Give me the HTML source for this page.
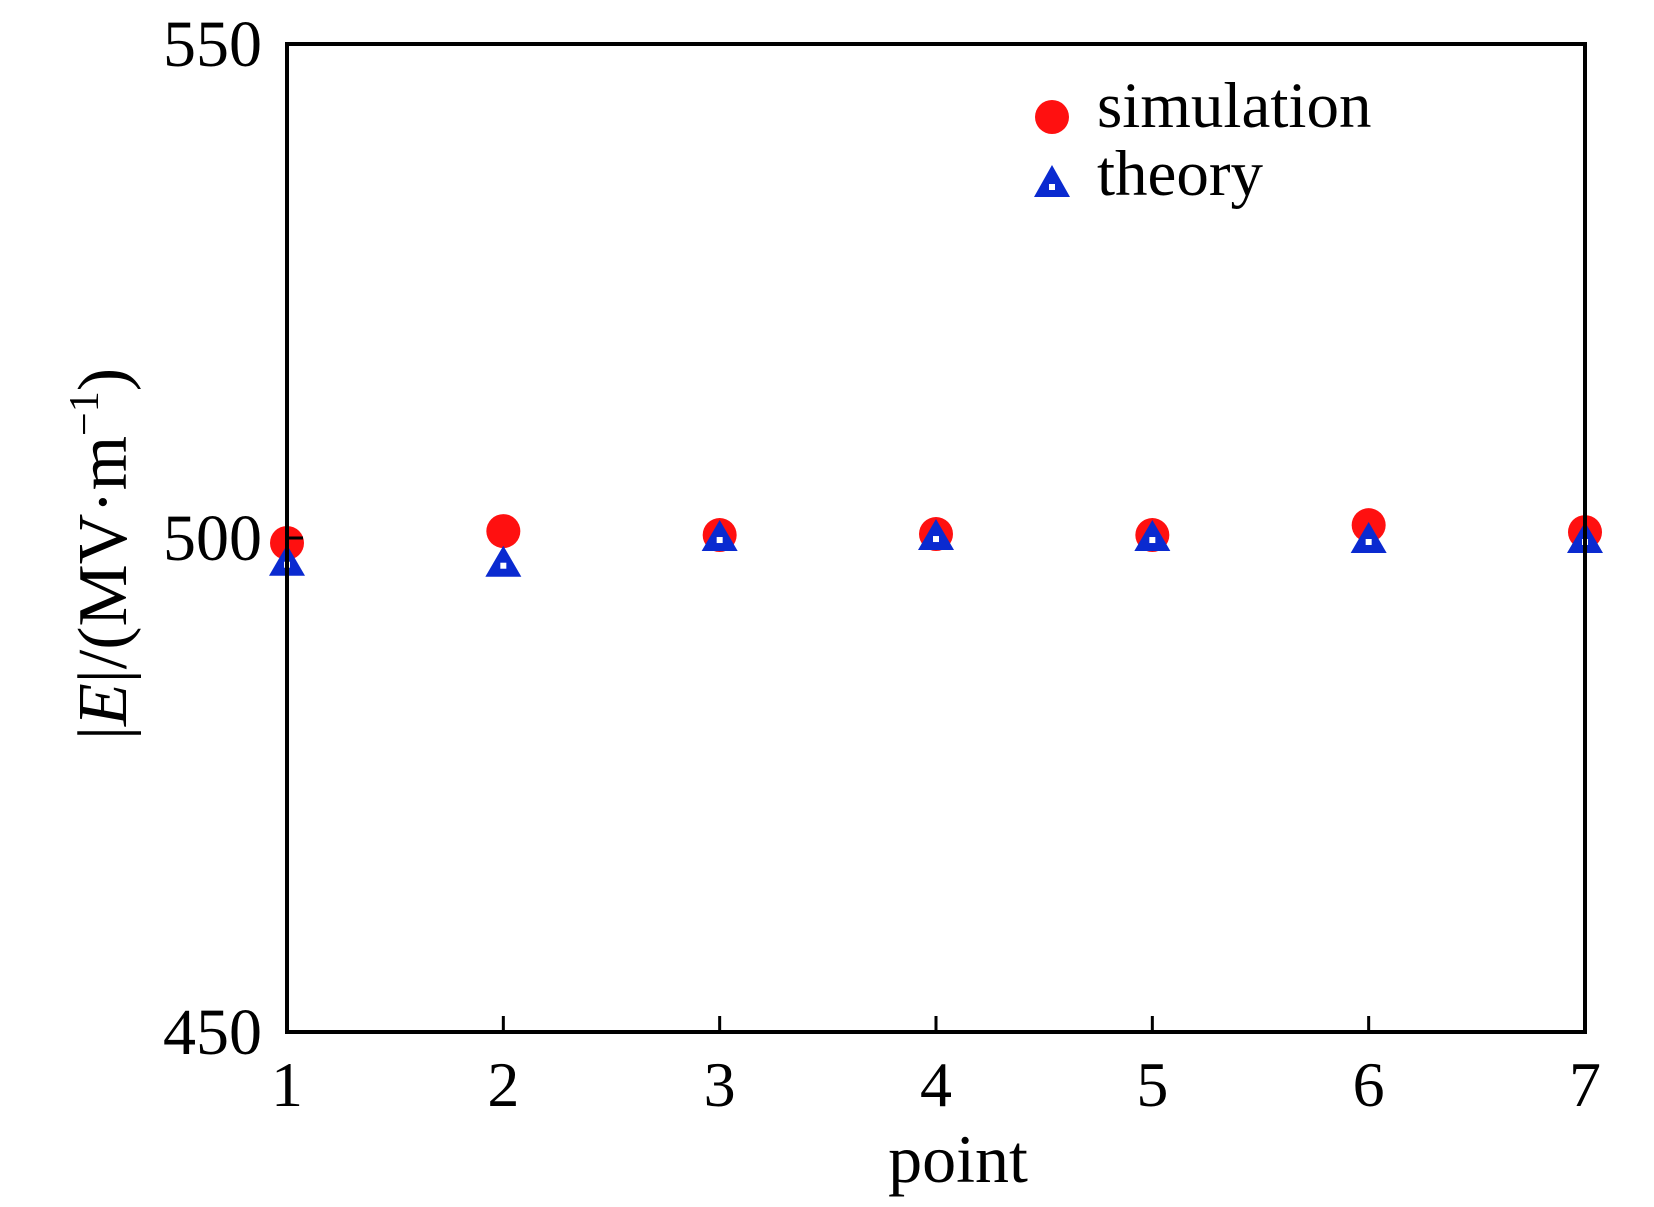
<!DOCTYPE html>
<html><head><meta charset="utf-8"><style>
html,body{margin:0;padding:0;background:#fff;}
svg{display:block;font-family:"Liberation Serif",serif;}
</style></head><body>
<svg id="chart" width="1654" height="1207" viewBox="0 0 1654 1207" xmlns="http://www.w3.org/2000/svg">
<rect x="0" y="0" width="1654" height="1207" fill="#fff"/>
<g id="marks"></g>
<rect x="287" y="44" width="1298" height="988" fill="none" stroke="#000" stroke-width="4"/>
<g id="ticks"></g>
<text x="958" y="1182" font-size="68" text-anchor="middle">point</text>
<text transform="translate(126,554) rotate(-90)" font-size="70" text-anchor="middle">|<tspan font-style="italic">E</tspan>|/(MV·m<tspan font-size="42" dy="-28">−1</tspan><tspan dy="28">)</tspan></text>
<g>
<circle cx="1052" cy="117" r="17" fill="#ff1010"/>
<text x="1097" y="127" font-size="65">simulation</text>
<polygon points="1052,165 1034,197 1070,197" fill="#0a2ad0"/>
<rect x="1049" y="184" width="6" height="6" fill="#fff"/>
<text x="1097" y="195" font-size="65">theory</text>
</g>
</svg>
<script>
const categories = [1,2,3,4,5,6,7];
const simulation = [499.5,500.7,500.3,500.4,500.3,501.3,500.6];
const theory = [497.7,497.6,500.2,500.3,500.2,500.0,500.0];
const yTicks = [450,500,550];

const X0=287,X1=1585,Y0=1032,Y1=44;
function xs(v){return X0+(v-1)/(7-1)*(X1-X0);}
function ys(v){return Y0-(v-450)/(550-450)*(Y0-Y1);}
const NS="http://www.w3.org/2000/svg";
const marks=document.getElementById('marks');
const ticks=document.getElementById('ticks');
function mk(tag,attrs,parent){const e=document.createElementNS(NS,tag);for(const k in attrs)e.setAttribute(k,attrs[k]);parent.appendChild(e);return e;}

simulation.forEach((v,i)=>{
  const c=mk('circle',{cx:xs(categories[i]),cy:ys(v),r:17,fill:'#ff1010'},marks);
  
  
});
theory.forEach((v,i)=>{
  const x=xs(categories[i]),y=ys(v);
  const p=mk('polygon',{points:`${x},${y-16} ${x-18},${y+15} ${x+18},${y+15}`,fill:'#0a2ad0'},marks);
  
  
  mk('rect',{x:x-3,y:y+1,width:6,height:6,fill:'#fff'},marks);
});
categories.forEach(c=>{
  const x=xs(c);
  const t=mk('line',{x1:x,x2:x,y1:Y0,y2:Y0-16,stroke:'#000','stroke-width':3},ticks);
  
  
  const l=mk('text',{x:x,y:1106,'font-size':64,'text-anchor':'middle'},ticks);
  l.textContent=c;
  
  
});
yTicks.forEach(v=>{
  const y=ys(v);
  const t=mk('line',{x1:X0,x2:X0+16,y1:y,y2:y,stroke:'#000','stroke-width':3},ticks);
  
  
  const l=mk('text',{x:262,y:y+22,'font-size':66,'text-anchor':'end'},ticks);
  l.textContent=v;
  
  
});
</script>
</body></html>
